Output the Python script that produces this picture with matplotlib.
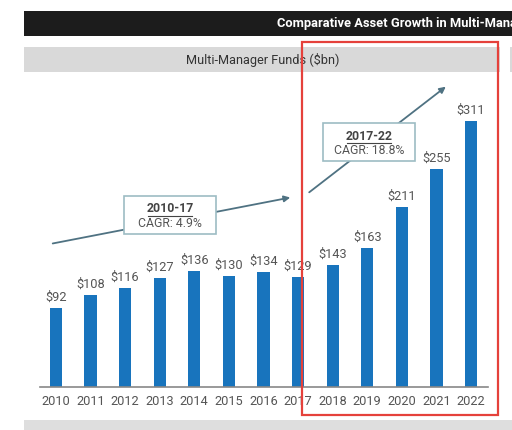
import matplotlib.pyplot as plt
from matplotlib.patches import Rectangle, FancyArrowPatch

plt.rcParams['font.family'] = ['Roboto', 'DejaVu Sans']

# data
years = ['2010', '2011', '2012', '2013', '2014', '2015', '2016', '2017',
         '2018', '2019', '2020', '2021', '2022']
assets = [92, 108, 116, 127, 136, 130, 134, 129, 143, 163, 211, 255, 311]
periods = ['2010-17', '2017-22']
cagr_labels = ['CAGR: 4.9%', 'CAGR: 18.8%']

W, H = 512, 430
fig = plt.figure(figsize=(W / 100, H / 100), dpi=100)


def px(x, y):
    # pixel (from top-left) -> figure fraction
    return x / W, 1 - y / H


def box(x0, y0, x1, y1, **kw):
    fx, fy = px(x0, y1)
    fig.patches.append(Rectangle((fx, fy), (x1 - x0) / W, (y1 - y0) / H,
                                 transform=fig.transFigure, **kw))


# header bars (title runs off the right edge, as in the source screenshot)
box(24, 11, 512, 36, facecolor='#1c1c1c', edgecolor='none')
fig.text(*px(277, 24), 'Comparative Asset Growth in Multi-Manager Funds',
         color='white', fontsize=9.3, fontweight='bold', ha='left', va='center')
box(24, 47, 500, 72, facecolor='#d9d9d9', edgecolor='none')
box(510, 47, 512, 72, facecolor='#d9d9d9', edgecolor='none')
fig.text(*px(263, 60), 'Multi-Manager Funds ($bn)', color='#333333',
         fontsize=9.2, ha='center', va='center')
box(24, 420, 512, 430, facecolor='#dedede', edgecolor='none')

# bar chart
ax = fig.add_axes([40 / W, (H - 387) / H, 448 / W, (387 - 80) / H])
x = range(len(years))
bars = ax.bar(x, assets, width=0.35, color='#1874bd', zorder=2)
for b, v in zip(bars, assets):
    ax.annotate(f'${v}', (b.get_x() + b.get_width() / 2, v),
                xytext=(0, 3), textcoords='offset points',
                ha='center', va='bottom', fontsize=9.2, color='#555555')
ax.set_xlim(-0.46, 12.49)
ax.set_ylim(0, 359)
ax.set_xticks(list(x))
ax.set_xticklabels(years, fontsize=9.2, color='#555555')
ax.tick_params(axis='x', length=0, pad=5.5)
ax.set_yticks([])
for s in ['top', 'right', 'left']:
    ax.spines[s].set_visible(False)
ax.spines['bottom'].set_color('#888888')
ax.spines['bottom'].set_linewidth(1.2)
ax.patch.set_alpha(0)

# growth arrows
arrow_color = '#4f7282'
for (xa, ya), (xb, yb) in [((50, 244), (293, 197)), ((307, 194), (448, 85))]:
    fig.patches.append(FancyArrowPatch(px(xa, ya), px(xb, yb),
                                       transform=fig.transFigure,
                                       arrowstyle='-|>', mutation_scale=9,
                                       color=arrow_color, linewidth=1.3))

# CAGR boxes
box_pos = [(124, 196, 216, 234), (323, 123, 415, 161)]
for (x0, y0, x1, y1), period, cagr in zip(box_pos, periods, cagr_labels):
    box(x0, y0, x1, y1, facecolor='white', edgecolor='#9dbcc4',
        linewidth=1.2, zorder=5)
    cx = (x0 + x1) / 2
    fig.text(*px(cx, y0 + 13), period, fontsize=8.8, fontweight='bold',
             color='#444444', ha='center', va='center', zorder=6)
    fig.lines.append(plt.Line2D([px(cx - 22, 0)[0], px(cx + 22, 0)[0]],
                                [px(0, y0 + 20)[1]] * 2, color='#444444',
                                linewidth=0.8, transform=fig.transFigure,
                                zorder=6))
    fig.text(*px(cx, y0 + 27), cagr, fontsize=8.8, color='#555555',
             ha='center', va='center', zorder=6)

# red highlight frame
box(302, 42, 498, 415, facecolor='none', edgecolor='#e5413b', linewidth=1.6,
    zorder=10)

fig.savefig('out.png', dpi=100)
